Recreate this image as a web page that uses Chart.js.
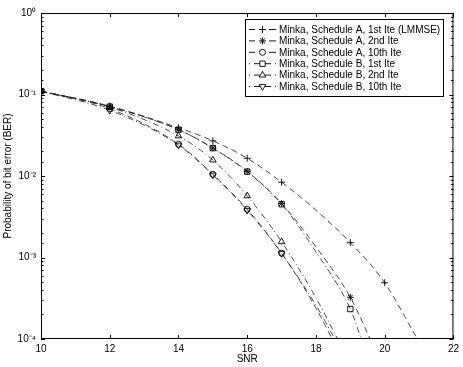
<!DOCTYPE html>
<html>
<head>
<meta charset="utf-8">
<script src="https://cdn.jsdelivr.net/npm/chart.js"></script>
<style>
  body { margin: 0; background: #fff; }
  canvas { display: block; }
</style>
</head>
<body>
<canvas id="berChart" width="463" height="367"></canvas>
<script>
// SNR points and BER; mark = 1 where a simulation marker is drawn
let snrA1 = [10, 12, 14, 15, 16, 17, 18, 19, 20, 20.95];
let berA1 = [0.11, 0.072, 0.039, 0.027, 0.0165, 0.0084, 0.0038, 0.00152, 0.00049, 0.0001];
let markA1 = [1, 1, 1, 1, 1, 1, 0, 1, 1, 0];

let snrA2 = [10, 12, 14, 15, 16, 17, 18, 19, 19.58];
let berA2 = [0.11, 0.071, 0.037, 0.022, 0.0114, 0.0046, 0.00135, 0.000325, 0.0001];
let markA2 = [1, 1, 1, 1, 1, 1, 0, 1, 0];

let snrA10 = [10, 12, 14, 15, 16, 17, 18, 18.47];
let berA10 = [0.11, 0.067, 0.0245, 0.0105, 0.0039, 0.00113, 0.00024, 0.0001];
let markA10 = [1, 1, 1, 1, 1, 1, 0, 0];

let snrB1 = [10, 12, 14, 15, 16, 17, 18, 19, 19.32];
let berB1 = [0.11, 0.071, 0.037, 0.022, 0.0113, 0.0045, 0.00117, 0.000233, 0.0001];
let markB1 = [1, 1, 1, 1, 1, 1, 0, 1, 0];

let snrB2 = [10, 12, 14, 15, 16, 17, 18, 18.63];
let berB2 = [0.11, 0.07, 0.031, 0.0157, 0.0057, 0.00156, 0.00032, 0.0001];
let markB2 = [1, 1, 1, 1, 1, 1, 0, 0];

let snrB10 = [10, 12, 14, 15, 16, 17, 18, 18.55];
let berB10 = [0.11, 0.064, 0.024, 0.0103, 0.0038, 0.00112, 0.00026, 0.0001];
let markB10 = [1, 1, 1, 1, 1, 1, 0, 0];

let seriesNames = [
    'Minka, Schedule A, 1st Ite (LMMSE)',
    'Minka, Schedule A, 2nd Ite',
    'Minka, Schedule A, 10th Ite',
    'Minka, Schedule B, 1st Ite',
    'Minka, Schedule B, 2nd Ite',
    'Minka, Schedule B, 10th Ite'
];
let xTicks = [10, 12, 14, 16, 18, 20, 22];

const FONT = '"Liberation Sans", Arial, Helvetica, sans-serif';
const DASHED = [6, 4];
const DASHDOT = [6, 3, 1, 3];

let styles = [
    { dash: DASHED, point: 'cross', r: 3.5, rot: 0 },
    { dash: DASHED, point: 'star', r: 3.5, rot: 0 },
    { dash: DASHED, point: 'circle', r: 3, rot: 0 },
    { dash: DASHDOT, point: 'rect', r: 3.8, rot: 0 },
    { dash: DASHDOT, point: 'triangle', r: 3.8, rot: 0 },
    { dash: DASHDOT, point: 'triangle', r: 3.8, rot: 180 }
];

function toPoints(xs, ys) {
    return xs.map((x, i) => ({ x: x, y: ys[i] }));
}

let rawSeries = [
    [snrA1, berA1, markA1],
    [snrA2, berA2, markA2],
    [snrA10, berA10, markA10],
    [snrB1, berB1, markB1],
    [snrB2, berB2, markB2],
    [snrB10, berB10, markB10]
];

let datasets = rawSeries.map((s, i) => {
    let st = styles[i];
    let marks = s[2];
    return {
        label: seriesNames[i],
        data: toPoints(s[0], s[1]),
        borderColor: '#222',
        borderWidth: 0.8,
        borderDash: st.dash,
        backgroundColor: 'rgba(0,0,0,0)',
        pointBackgroundColor: 'rgba(0,0,0,0)',
        pointBorderColor: '#000',
        pointBorderWidth: 0.9,
        pointStyle: st.point,
        pointRotation: st.rot,
        pointRadius: (c) => marks[c.dataIndex] ? st.r : 0,
        pointHoverRadius: (c) => marks[c.dataIndex] ? st.r : 0,
        cubicInterpolationMode: 'monotone',
        fill: false
    };
});

const sup = { '0': '\u2070', '1': '\u00b9', '2': '\u00b2', '3': '\u00b3', '4': '\u2074', '-': '\u207b' };

// box, inward ticks and the legend, drawn the MATLAB way
let framePlugin = {
    id: 'frame',
    afterDraw(chart) {
        let ctx = chart.ctx;
        let a = chart.chartArea;
        let xs = chart.scales.x;
        let ys = chart.scales.y;
        ctx.save();
        ctx.strokeStyle = '#000';
        ctx.lineWidth = 1;
        ctx.setLineDash([]);
        ctx.strokeRect(a.left + 0.5, a.top + 0.5, a.right - a.left - 1, a.bottom - a.top - 1);

        ctx.beginPath();
        xTicks.forEach(v => {
            let px = Math.round(xs.getPixelForValue(v)) + 0.5;
            ctx.moveTo(px, a.bottom); ctx.lineTo(px, a.bottom - 4);
            ctx.moveTo(px, a.top); ctx.lineTo(px, a.top + 4);
        });
        ys.ticks.forEach(t => {
            let e = Math.log10(t.value);
            let major = Math.abs(e - Math.round(e)) < 1e-9;
            let len = major ? 4 : 2.5;
            let py = Math.round(ys.getPixelForValue(t.value)) + 0.5;
            ctx.moveTo(a.left, py); ctx.lineTo(a.left + len, py);
            ctx.moveTo(a.right, py); ctx.lineTo(a.right - len, py);
        });
        ctx.stroke();

        // legend
        let bx = 245, by = 19, bw = 198, bh = 77;
        ctx.fillStyle = '#fff';
        ctx.fillRect(bx, by, bw, bh);
        ctx.strokeRect(bx + 0.5, by + 0.5, bw, bh);
        ctx.font = '10px ' + FONT;
        ctx.textBaseline = 'middle';
        ctx.textAlign = 'left';
        seriesNames.forEach((name, i) => {
            let st = styles[i];
            let y = by + 10.5 + i * 11.4;
            ctx.strokeStyle = '#000';
            ctx.lineWidth = 0.9;
            ctx.beginPath();
            if (st.dash === DASHED) {
                ctx.moveTo(249, y); ctx.lineTo(255, y);
                ctx.moveTo(269, y); ctx.lineTo(276, y);
            } else {
                ctx.moveTo(249, y); ctx.lineTo(250, y);
                ctx.moveTo(254, y); ctx.lineTo(260, y);
                ctx.moveTo(265, y); ctx.lineTo(271, y);
                ctx.moveTo(275, y); ctx.lineTo(276, y);
            }
            ctx.stroke();
            ctx.fillStyle = 'rgba(0,0,0,0)';
            Chart.helpers.drawPoint(ctx, {
                pointStyle: st.point, radius: st.r, rotation: st.rot, borderWidth: 0.9
            }, 262.5, y);
            ctx.fillStyle = '#000';
            ctx.fillText(name, 279, y + 0.5);
        });
        ctx.restore();
    }
};

let chart = new Chart(document.getElementById('berChart').getContext('2d'), {
    type: 'line',
    data: { datasets: datasets },
    options: {
        responsive: false,
        animation: false,
        events: [],
        layout: { padding: { left: 0, right: 8, top: 13, bottom: 0 } },
        plugins: {
            legend: { display: false },
            tooltip: { enabled: false }
        },
        scales: {
            x: {
                type: 'linear',
                min: 10,
                max: 22,
                afterFit: (s) => { s.height = 28; },
                afterBuildTicks: (s) => { s.ticks = xTicks.map(v => ({ value: v })); },
                grid: { display: false, drawTicks: false },
                border: { display: false },
                ticks: { color: '#000', font: { family: FONT, size: 10 }, padding: 4, maxRotation: 0 },
                title: { display: true, text: 'SNR', color: '#000', font: { family: FONT, size: 10 }, padding: { top: 0, bottom: 2 } }
            },
            y: {
                type: 'logarithmic',
                min: 0.0001,
                max: 1,
                afterFit: (s) => { s.width = 41; },
                grid: { display: false, drawTicks: false },
                border: { display: false },
                ticks: {
                    color: '#000',
                    autoSkip: false,
                    padding: 5,
                    font: { family: FONT, size: 10 },
                    callback: (v) => {
                        let e = Math.log10(v);
                        if (Math.abs(e - Math.round(e)) > 1e-9) return '';
                        return '10' + String(Math.round(e)).split('').map(c => sup[c]).join('');
                    }
                },
                title: { display: true, text: 'Probability of bit error (BER)', color: '#000', font: { family: FONT, size: 10 }, padding: { top: 2, bottom: 0 } }
            }
        }
    },
    plugins: [framePlugin]
});
</script>
</body>
</html>
